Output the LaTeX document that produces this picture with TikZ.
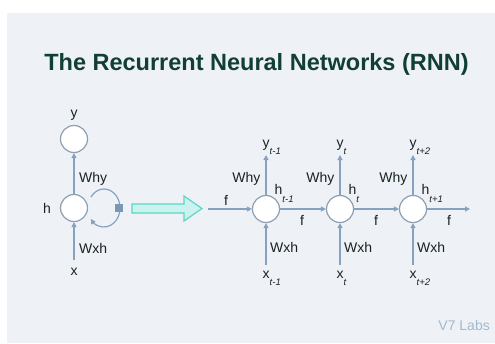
\documentclass[tikz,border=0pt]{standalone}
\usepackage{fontspec}
\setmainfont{Liberation Sans}
\usetikzlibrary{arrows.meta}
\definecolor{bg}{HTML}{EEF2F7}
\definecolor{ttl}{HTML}{123F35}
\definecolor{txt}{HTML}{18231F}
\definecolor{ln}{HTML}{87A2BF}
\definecolor{circ}{HTML}{8E9FB1}
\definecolor{sq}{HTML}{7B97B5}
\definecolor{bigf}{HTML}{CBF2EE}
\definecolor{bigd}{HTML}{5CD6C6}
\definecolor{wmark}{HTML}{A4B8CD}
\newcommand\sbs[1]{\raisebox{-7.5pt}{\fontsize{9.5}{10}\selectfont\itshape #1}}
\begin{document}
\begin{tikzpicture}[x=1pt,y=-1pt,
 neuron/.style={circle,draw=circ,fill=white,line width=1.2pt,minimum size=27pt,inner sep=0pt},
 conn/.style={draw=ln,line width=1.2pt,-{Triangle[length=5pt,width=5pt]}},
 lbl/.style={text=txt,font=\fontsize{14}{15}\selectfont,inner sep=0pt},
]
\path[use as bounding box] (0,0) rectangle (495,343);
\fill[white] (0,0) rectangle (495,343);
\fill[bg] (7,13) rectangle (495,343);

\node[anchor=base,inner sep=0pt,text=ttl,font=\fontsize{23.5}{26}\selectfont\bfseries] (title) at (256.5,70.7) {The Recurrent Neural Networks (RNN)};

% folded RNN
\node[neuron] (h0) at (74,208) {};
\node[neuron] (y0) at (74,139) {};
\coordinate (x0in) at (74,260);
\draw[conn] (x0in) -- (h0);
\draw[conn] (h0) -- (y0);
\node[lbl,anchor=base] (ylab0) at (74,117) {y};
\node[lbl,anchor=base] (hlab0) at (47,213) {h};
\node[lbl,anchor=base] (xlab0) at (74,275) {x};
\node[lbl,anchor=base west] (why0) at (79,182) {Why};
\node[lbl,anchor=base west] (wxh0) at (79,253) {Wxh};
\coordinate (loopstart) at (90.9,197.1);
\draw[conn] (loopstart) arc[start angle=-145,end angle=145,x radius=16,y radius=19];
\node[fill=sq,minimum size=8pt,inner sep=0pt] (sqr) at (119,208) {};

% unfold arrow
\draw[fill=bigf,draw=bigd,line width=1.2pt,line join=miter]
  (132,204)--(184,204)--(184,196)--(202,208.5)--(184,221)--(184,213)--(132,213)--cycle;

% unrolled RNN
\foreach \i/\cx/\ys/\hs in {1/266/{t-1}/{t-1},2/340/{t}/{t},3/413/{t+2}/{t+1}}{
  \node[neuron] (c\i) at (\cx,209) {};
  \coordinate (xin\i) at (\cx,265);
  \coordinate (yout\i) at (\cx,155);
  \draw[conn] (xin\i) -- (c\i);
  \draw[conn] (c\i) -- (yout\i);
  \node[lbl,anchor=base east] (why\i) at (\cx-5.5,182) {Why};
  \node[lbl,anchor=base west] (wxh\i) at (\cx+4,252) {Wxh};
  \node[lbl,anchor=base west] (ylab\i) at (\cx-3.5,147) {y\sbs{\ys}};
  \node[lbl,anchor=base west] (xlab\i) at (\cx-3.5,278) {x\sbs{\ys}};
  \node[lbl,anchor=base west] (hlab\i) at (\cx+8.5,194.5) {h\sbs{\hs}};
}
\coordinate (fin) at (208,209);
\coordinate (fout) at (470,209);
\draw[conn] (fin) -- (c1);
\draw[conn] (c1) -- (c2);
\draw[conn] (c2) -- (c3);
\draw[conn] (c3) -- (fout);
\node[lbl,anchor=base] (f0) at (226,205) {f};
\node[lbl,anchor=base] (f1) at (302,225) {f};
\node[lbl,anchor=base] (f2) at (376,225) {f};
\node[lbl,anchor=base] (f3) at (449,225) {f};

\node[anchor=base east,inner sep=0pt,text=wmark,font=\fontsize{14}{15}\selectfont] (brand) at (490,330) {V7 Labs};
\end{tikzpicture}
\end{document}
